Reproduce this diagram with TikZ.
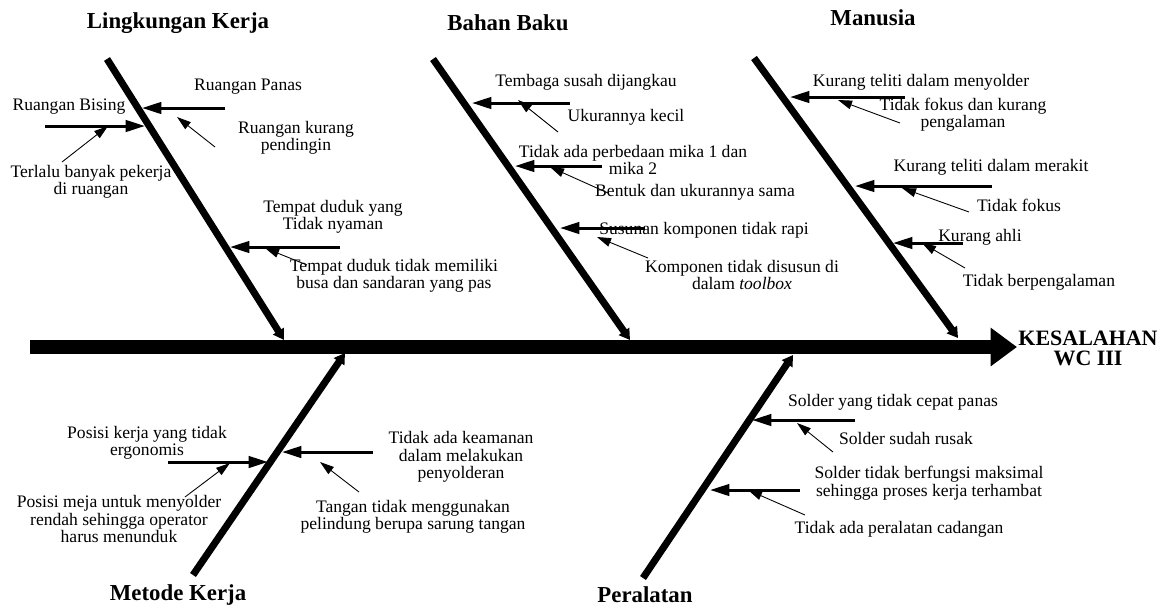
\documentclass[tikz,border=0pt]{standalone}
\usepackage{fontspec}
\setmainfont{Liberation Serif}
\usetikzlibrary{arrows.meta}

\begin{document}
\begin{tikzpicture}[
    x=0.02cm, y=-0.02cm,
    tulang/.style={line width=4pt, -{Triangle[length=6pt,width=7pt]}},
    sebab/.style={line width=1.7pt, -{Triangle[length=11pt,width=6.5pt]}},
    subsebab/.style={line width=0.5pt, -{Triangle[length=8pt,width=5pt]}},
    teks/.style={font=\fontsize{10pt}{9.9pt}\selectfont, align=center, inner sep=0pt},
    judul/.style={font=\fontsize{13pt}{11.5pt}\selectfont\bfseries, align=center, inner sep=0pt}
]

\useasboundingbox (0,0) rectangle (1162,606);

% Tulang utama
\coordinate (awal) at (30,347);
\coordinate (efek) at (1017,347);
\draw[
    line width=8.5pt,
    -{Triangle[length=15pt,width=21pt]}
] (awal) -- (efek);
\node[judul, font=\fontsize{12.5pt}{11.5pt}\selectfont\bfseries] (masalah) at (1088,348) {KESALAHAN\\WC III};

% Tulang kategori
\coordinate (L1a) at (107,59);  \coordinate (L1b) at (284,340);
\coordinate (L2a) at (433,59);  \coordinate (L2b) at (630,340);
\coordinate (L3a) at (754,58);  \coordinate (L3b) at (958,338);
\coordinate (M1a) at (193,575); \coordinate (M1b) at (345,353);
\coordinate (M2a) at (643,578); \coordinate (M2b) at (793,355);

\draw[tulang] (L1a) -- (L1b);
\draw[tulang] (L2a) -- (L2b);
\draw[tulang] (L3a) -- (L3b);
\draw[tulang] (M1a) -- (M1b);
\draw[tulang] (M2a) -- (M2b);

\node[judul] (lingkungan) at (178,23) {Lingkungan Kerja};
\node[judul] (bahan) at (508,23) {Bahan Baku};
\node[judul] (manusia) at (873,18) {Manusia};
\node[judul] (metode) at (178,595) {Metode Kerja};
\node[judul] (peralatan) at (645,595) {Peralatan};

% Lingkungan Kerja
\coordinate (a1) at (225,108); \coordinate (a1u) at (142,108);
\coordinate (a2) at (45,126);  \coordinate (a2u) at (145,126);
\coordinate (a3) at (340,247); \coordinate (a3u) at (230,247);
\coordinate (t1) at (215,147); \coordinate (t1u) at (177,117);
\coordinate (t2) at (62,162);  \coordinate (t2u) at (108,126);
\coordinate (t3) at (307,265); \coordinate (t3u) at (265,248);
\draw[sebab] (a1) -- (a1u);
\draw[sebab] (a2) -- (a2u);
\draw[sebab] (a3) -- (a3u);
\draw[subsebab] (t1) -- (t1u);
\draw[subsebab] (t2) -- (t2u);
\draw[subsebab] (t3) -- (t3u);
\node[teks] (panas) at (248,87) {Ruangan Panas};
\node[teks] (bising) at (69,107) {Ruangan Bising};
\node[teks] (dingin) at (296,138) {Ruangan kurang\\pendingin};
\node[teks] (pekerja) at (91,182) {Terlalu banyak pekerja\\di ruangan};
\node[teks] (duduk) at (333,217) {Tempat duduk yang\\Tidak nyaman};
\node[teks] (busa) at (394,276) {Tempat duduk tidak memiliki\\busa dan sandaran yang pas};

% Bahan Baku
\coordinate (a4) at (570,103); \coordinate (a4u) at (472,103);
\coordinate (a5) at (602,166); \coordinate (a5u) at (515,166);
\coordinate (a6) at (645,228); \coordinate (a6u) at (560,228);
\coordinate (t4) at (558,132); \coordinate (t4u) at (518,100);
\coordinate (t5) at (608,193); \coordinate (t5u) at (550,167);
\coordinate (t6) at (648,258); \coordinate (t6u) at (597,237);
\draw[sebab] (a4) -- (a4u);
\draw[sebab] (a5) -- (a5u);
\draw[sebab] (a6) -- (a6u);
\draw[subsebab] (t4) -- (t4u);
\draw[subsebab] (t5) -- (t5u);
\draw[subsebab] (t6) -- (t6u);
\node[teks] (tembaga) at (586,82) {Tembaga susah dijangkau};
\node[teks] (kecil) at (626,117) {Ukurannya kecil};
\node[teks] (mika) at (633,160) {Tidak ada perbedaan mika 1 dan\\mika 2};
\node[teks] (bentuk) at (695,192) {Bentuk dan ukurannya sama};
\node[teks] (susunan) at (704,230) {Susunan komponen tidak rapi};
\node[teks] (toolbox) at (742,275) {Komponen tidak disusun di\\dalam \textit{toolbox}};

% Manusia
\coordinate (a7) at (905,97);  \coordinate (a7u) at (790,97);
\coordinate (a8) at (992,186); \coordinate (a8u) at (855,186);
\coordinate (a9) at (963,243); \coordinate (a9u) at (893,243);
\coordinate (t7) at (900,123); \coordinate (t7u) at (838,100);
\coordinate (t8) at (969,212); \coordinate (t8u) at (902,188);
\coordinate (t9) at (965,268); \coordinate (t9u) at (922,243);
\draw[sebab] (a7) -- (a7u);
\draw[sebab] (a8) -- (a8u);
\draw[sebab] (a9) -- (a9u);
\draw[subsebab] (t7) -- (t7u);
\draw[subsebab] (t8) -- (t8u);
\draw[subsebab] (t9) -- (t9u);
\node[teks] (menyolder) at (921,82) {Kurang teliti dalam menyolder};
\node[teks] (fokus1) at (963,115) {Tidak fokus dan kurang\\pengalaman};
\node[teks] (merakit) at (991,167) {Kurang teliti dalam merakit};
\node[teks] (fokus2) at (1019,205) {Tidak fokus};
\node[teks] (ahli) at (980,237) {Kurang ahli};
\node[teks] (pengalaman) at (1039,282) {Tidak berpengalaman};

% Metode Kerja
\coordinate (b1) at (168,462); \coordinate (b1u) at (268,462);
\coordinate (b2) at (373,452); \coordinate (b2u) at (282,452);
\coordinate (u1) at (185,497); \coordinate (u1u) at (230,463);
\coordinate (u2) at (359,492); \coordinate (u2u) at (320,462);
\draw[sebab] (b1) -- (b1u);
\draw[sebab] (b2) -- (b2u);
\draw[subsebab] (u1) -- (u1u);
\draw[subsebab] (u2) -- (u2u);
\node[teks] (ergonomis) at (147,443) {Posisi kerja yang tidak\\ergonomis};
\node[teks] (meja) at (119,519) {Posisi meja untuk menyolder\\rendah sehingga operator\\harus menunduk};
\node[teks] (keamanan) at (461,457) {Tidak ada keamanan\\dalam melakukan\\penyolderan};
\node[teks] (sarung) at (413,517) {Tangan tidak menggunakan\\pelindung berupa sarung tangan};

% Peralatan
\coordinate (b3) at (855,420); \coordinate (b3u) at (752,420);
\coordinate (b4) at (800,490); \coordinate (b4u) at (710,490);
\coordinate (u3) at (833,452); \coordinate (u3u) at (797,423);
\coordinate (u4) at (805,515); \coordinate (u4u) at (748,490);
\draw[sebab] (b3) -- (b3u);
\draw[sebab] (b4) -- (b4u);
\draw[subsebab] (u3) -- (u3u);
\draw[subsebab] (u4) -- (u4u);
\node[teks] (cepat) at (893,402) {Solder yang tidak cepat panas};
\node[teks] (rusak) at (906,438) {Solder sudah rusak};
\node[teks] (berfungsi) at (929,483) {Solder tidak berfungsi maksimal\\sehingga proses kerja terhambat};
\node[teks] (cadangan) at (899,529) {Tidak ada peralatan cadangan};

\end{tikzpicture}
\end{document}
